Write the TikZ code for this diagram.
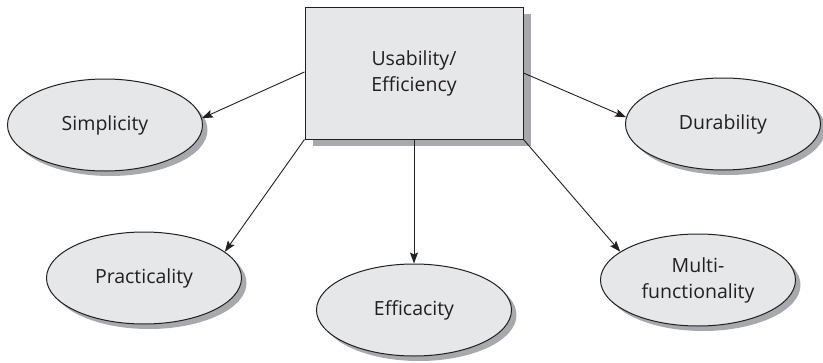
\documentclass[tikz,border=0pt]{standalone}
\usepackage{fontspec}
\setmainfont{Open Sans}
\usetikzlibrary{shapes.geometric,shadows,arrows.meta}
\definecolor{boxfill}{HTML}{E6E7E8}
\definecolor{shadowgray}{HTML}{A7A9AC}
\definecolor{ink}{HTML}{231F20}
\tikzset{
  x=1pt, y=-1pt,
  every node/.style={font=\fontsize{19.5}{26}\selectfont, text=ink, align=center},
  centerbox/.style={draw=ink, line width=1pt, fill=boxfill, minimum width=218pt, minimum height=132pt,
    inner sep=0pt, drop shadow={shadow xshift=8pt, shadow yshift=-7pt, fill=shadowgray, opacity=1}},
  aspect/.style={ellipse, draw=ink, line width=1pt, fill=boxfill, minimum width=195pt, minimum height=92pt,
    inner sep=0pt, drop shadow={shadow xshift=5pt, shadow yshift=-5pt, fill=shadowgray, opacity=1}},
  link/.style={draw=ink, line width=0.9pt, -{Stealth[length=11pt,width=8pt,inset=2pt]}}
}
\begin{document}
\begin{tikzpicture}
\useasboundingbox (0,0) rectangle (823,362);
\node[centerbox] (use) at (414,73) {Usability/\\Efficiency};
\node[aspect] (simp) at (105,125) {Simplicity};
\node[aspect] (dura) at (723,124) {Durability};
\node[aspect] (prac) at (144,278) {Practicality};
\node[aspect] (effi) at (414,310) {Efficacity};
\node[aspect] (mult) at (698,280) {Multi-\\functionality};
\draw[link] (use.west |- 0,72) -- (simp.4);
\draw[link] (use.east |- 0,73) -- (dura.176);
\draw[link] (use.south west) -- (prac.18);
\draw[link] (use.south) -- (effi.north);
\draw[link] (use.south east) -- (mult.160);
\end{tikzpicture}
\end{document}
